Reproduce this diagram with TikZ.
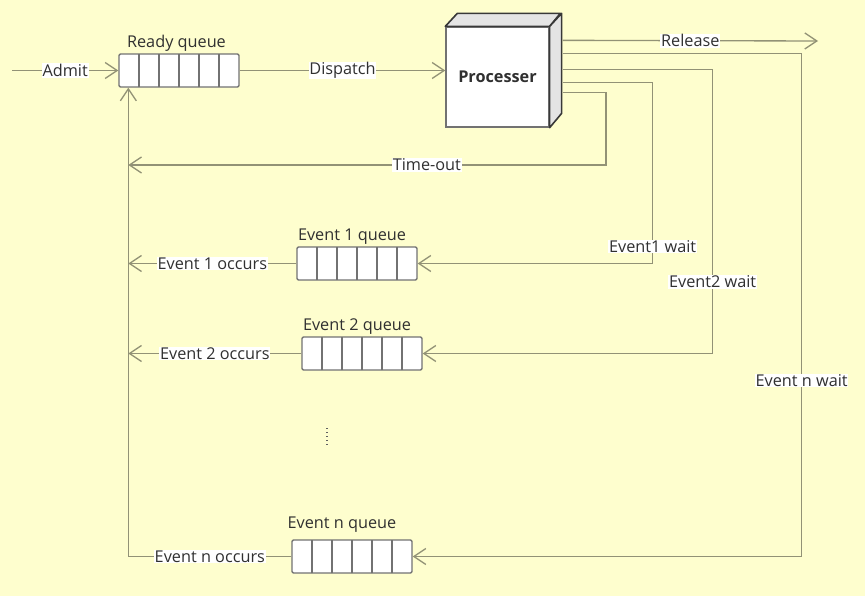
\documentclass[tikz,border=0pt]{standalone}
\usepackage{fontspec}
\setmainfont{Open Sans}
\usetikzlibrary{arrows.meta,calc,positioning}
\definecolor{bgyellow}{HTML}{FEFECE}
\definecolor{linegray}{HTML}{929276}
\definecolor{boxgray}{HTML}{727272}
\definecolor{facegray}{HTML}{E4E4E4}
\definecolor{edgedark}{HTML}{383838}
\definecolor{inkgray}{RGB}{48,48,48}

\begin{document}
\begin{tikzpicture}[x=0.75pt,y=-0.75pt,font=\fontsize{12.2}{14}\selectfont,text=inkgray,
	flow/.style={draw=linegray,line width=1pt},
	arr/.style={flow,-{Straight Barb[length=9pt,width=12pt]}},
	queue/.style={draw=boxgray,fill=white,line width=1pt,minimum width=90pt,minimum height=24.75pt,inner sep=0pt,rounded corners=1pt,
		path picture={\foreach \k in {1,...,5}{\draw[boxgray,line width=1pt] ($(path picture bounding box.south west)!\k/6!(path picture bounding box.south east)$) -- ($(path picture bounding box.north west)!\k/6!(path picture bounding box.north east)$);}}},
	procbox/.style={draw=boxgray,fill=white,line width=1pt,minimum width=77.25pt,minimum height=75pt,font=\fontsize{12.2}{14}\selectfont\bfseries},
	face/.style={fill=facegray,draw=edgedark,line width=1.2pt,line join=round},
	tag/.style={fill=white,inner sep=0.6pt},
	title/.style={inner sep=1pt}]

	\fill[bgyellow] (0,0) rectangle (865,596);

	% queues
	\node[queue] (ready) at (179,70.5) {};
	\node[title,above=0pt of ready,xshift=-1.9pt] (readyT) {Ready queue};
	\node[queue] (ev1) at (357,263.5) {};
	\node[title,above=0pt of ev1,xshift=-3.75pt] (ev1T) {Event 1 queue};
	\node[queue] (ev2) at (362,353.5) {};
	\node[title,above=0pt of ev2,xshift=-3.75pt] (ev2T) {Event 2 queue};
	\node[queue] (evn) at (352,556.5) {};
	\node[title,above=4pt of evn,xshift=-7.5pt] (evnT) {Event n queue};

	% processor block
	\node[procbox] (proc) at (497.5,77) {Processer};
	\draw[face] (proc.north west) -- ++(12,-13) -- ++(103,0) -- (proc.north east) -- cycle;
	\draw[face] (proc.north east) -- ++(12,-13) -- ++(0,100) -- (proc.south east) -- cycle;

	% outlets and bends
	\coordinate (entry) at (12,70.5);
	\coordinate (exit) at (818,41);
	\coordinate (o0) at ($(proc.north east)+(13,14)$);
	\coordinate (on) at ($(proc.north east)+(13,27)$);
	\coordinate (o2) at ($(proc.north east)+(13,43)$);
	\coordinate (o1) at ($(proc.north east)+(13,56)$);
	\coordinate (ot) at ($(proc.north east)+(13,66)$);
	\coordinate (tt) at (606,165);
	\coordinate (w1) at ($(ev1.east)+(235,0)$);
	\coordinate (w2) at ($(ev2.east)+(290,0)$);
	\coordinate (wn) at ($(evn.east)+(389,0)$);
	\coordinate (back) at ($(ready.south west)+(10,0)$);

	\draw[arr] (entry) -- node[tag] {Admit} (ready);
	\draw[arr] (ready) -- node[tag] {Dispatch} (ready -| proc.west);
	\draw[arr] (o0) -- node[tag] {Release} (exit);

	\draw[arr] (ot) -| (tt) -- node[tag,pos=0.375] {Time-out} (tt -| back);
	\draw[arr] (o1) -| node[tag,pos=0.953] {Event1 wait} (w1) -- (ev1);
	\draw[arr] (o2) -| node[tag,pos=0.874] {Event2 wait} (w2) -- (ev2);
	\draw[arr] (on) -| node[tag,pos=0.825] {Event n wait} (wn) -- (evn);

	\draw[arr] (ev1) -- node[tag] {Event 1 occurs} (ev1 -| back);
	\draw[arr] (ev2) -- node[tag] {Event 2 occurs} (ev2 -| back);
	\draw[arr] (evn) -- node[tag] {Event n occurs} (evn -| back) -- (back);

	\draw[edgedark!80,dotted,line width=1pt] (327,428) -- (327,447);

\end{tikzpicture}
\end{document}
